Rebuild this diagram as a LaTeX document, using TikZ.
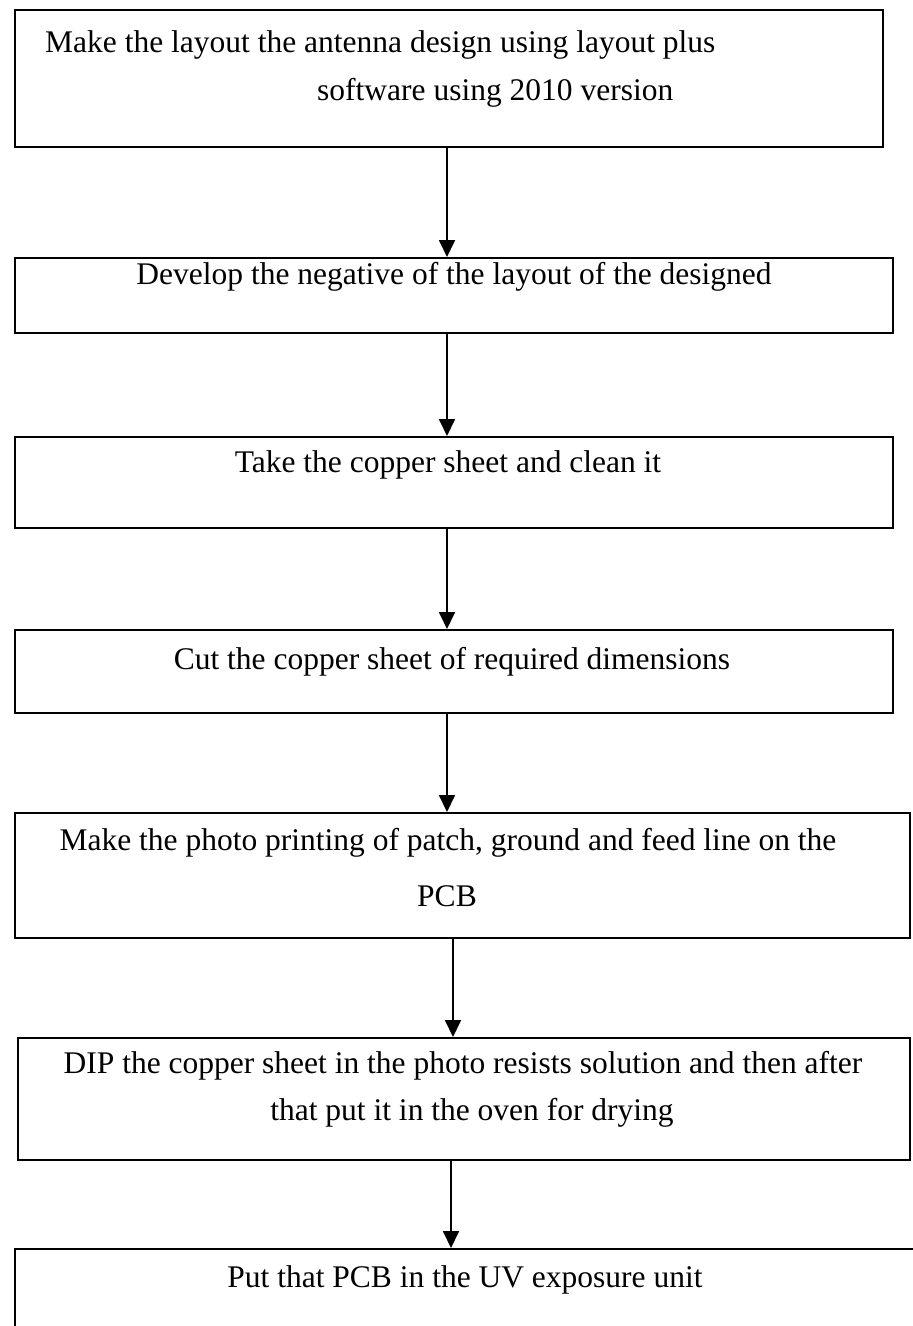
\documentclass[tikz,border=0pt]{standalone}
\usepackage{fontspec}
\setmainfont{Liberation Serif}
\usetikzlibrary{arrows.meta}
\begin{document}
\begin{tikzpicture}[x=1pt,y=-1pt,
  stepbox/.style={draw=black,line width=1.8pt,rectangle,inner sep=0pt,anchor=north west},
  txt/.style={inner sep=0pt,font=\fontsize{31.5}{38}\selectfont},
  flow/.style={line width=1.8pt,-{Triangle[width=16pt,length=17pt]}}]
\useasboundingbox (0,0) rectangle (913,1326);
\clip (0,0) rectangle (913,1326);
% boxes
\node[stepbox,minimum width=868pt,minimum height=137pt] (b1) at (14,9) {};
\node[stepbox,minimum width=878pt,minimum height=75pt] (b2) at (14,257) {};
\node[stepbox,minimum width=878pt,minimum height=91pt] (b3) at (14,436) {};
\node[stepbox,minimum width=878pt,minimum height=83pt] (b4) at (14,629) {};
\node[stepbox,minimum width=895pt,minimum height=125pt] (b5) at (14,812) {};
\node[stepbox,minimum width=892pt,minimum height=122pt] (b6) at (17,1037) {};
\node[stepbox,minimum width=960pt,minimum height=140pt] (b7) at (14,1248) {};
% texts
\node[txt,anchor=west] (t1a) at (45,45) {Make the layout the antenna design using layout plus};
\node[txt,anchor=west] (t1b) at (317,93) {software using 2010 version};
\node[txt] (t2) at (454,277) {Develop the negative of the layout of the designed};
\node[txt] (t3) at (448,465) {Take the copper sheet and clean it};
\node[txt] (t4) at (452,662) {Cut the copper sheet of required dimensions};
\node[txt] (t5a) at (448,843) {Make the photo printing of patch, ground and feed line on the};
\node[txt] (t5b) at (447,896) {PCB};
\node[txt] (t6a) at (463,1066) {DIP the copper sheet in the photo resists solution and then after};
\node[txt] (t6b) at (472,1113) {that put it in the oven for drying};
\node[txt] (t7) at (465,1280) {Put that PCB in the UV exposure unit};
% connectors
\draw[flow] (b1.south -| 447,0) -- (b2.north -| 447,0);
\draw[flow] (b2.south -| 447,0) -- (b3.north -| 447,0);
\draw[flow] (b3.south -| 447,0) -- (b4.north -| 447,0);
\draw[flow] (b4.south -| 447,0) -- (b5.north -| 447,0);
\draw[flow] (b5.south -| 453,0) -- (b6.north -| 453,0);
\draw[flow] (b6.south -| 451,0) -- (b7.north -| 451,0);
\end{tikzpicture}
\end{document}
